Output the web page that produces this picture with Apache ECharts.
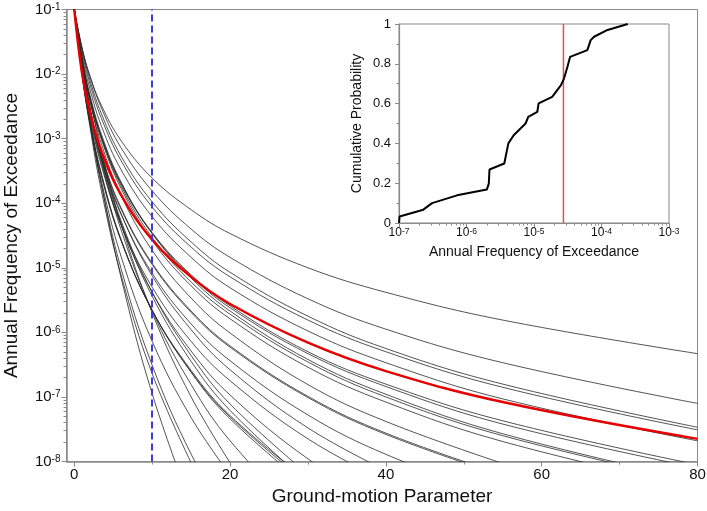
<!DOCTYPE html>
<html><head><meta charset="utf-8">
<script src="https://cdn.jsdelivr.net/npm/echarts@6/dist/echarts.min.js"></script>
<style>html,body{margin:0;padding:0;background:#fff}#c{width:707px;height:511px}</style>
</head><body><div id="c"></div>
<script>
// Ground-motion parameter sample positions shared by all hazard curves
const xs = [0, 1, 2, 3.5, 6, 10, 15, 20, 30, 40, 55, 80];

// Individual hazard curves (annual frequency of exceedance)
const c1 = [1e-1, 1.26e-2, 2.09e-3, 1.91e-4, 7.08e-6, 1.12e-7, 2.09e-9];
const c2 = [1e-1, 1.0e-2, 1.55e-3, 1.51e-4, 7.76e-6, 2.29e-7, 9.55e-9];
const c3 = [1e-1, 1.10e-2, 1.78e-3, 1.86e-4, 9.77e-6, 3.09e-7, 1.30e-8, 1.15e-9];
const c4 = [1e-1, 1.05e-2, 1.78e-3, 2.14e-4, 1.51e-5, 7.24e-7, 4.79e-8, 6.17e-9];
const c5 = [1e-1, 1.82e-2, 4.17e-3, 6.31e-4, 4.79e-5, 2.0e-6, 1.0e-7, 9.55e-9];
const c6 = [1e-1, 1.48e-2, 3.09e-3, 4.57e-4, 3.89e-5, 2.14e-6, 1.55e-7, 2.09e-8, 1.07e-9];
const c7 = [1e-1, 1.02e-2, 1.91e-3, 2.82e-4, 2.75e-5, 2.19e-6, 2.40e-7, 4.57e-8, 4.07e-9];
const c8 = [1e-1, 1.0e-2, 1.82e-3, 2.69e-4, 2.69e-5, 2.19e-6, 2.45e-7, 4.90e-8, 4.57e-9];
const c9 = [1e-1, 9.55e-3, 1.74e-3, 2.57e-4, 2.63e-5, 2.19e-6, 2.57e-7, 5.13e-8, 5.01e-9];
const c10 = [1e-1, 1.41e-2, 3.02e-3, 4.79e-4, 4.90e-5, 3.63e-6, 3.55e-7, 6.17e-8, 4.68e-9];
const c11 = [1e-1, 1.41e-2, 3.09e-3, 5.01e-4, 5.37e-5, 4.17e-6, 4.37e-7, 7.76e-8, 6.31e-9];
const c12 = [1e-1, 1.20e-2, 2.45e-3, 4.07e-4, 4.57e-5, 4.17e-6, 5.13e-7, 1.07e-7, 1.10e-8, 2.04e-9];
const c13 = [1e-1, 1.07e-2, 2.19e-3, 3.72e-4, 4.68e-5, 5.01e-6, 7.24e-7, 1.78e-7, 2.24e-8, 4.90e-9];
const c14 = [1e-1, 1.26e-2, 2.82e-3, 5.25e-4, 6.92e-5, 7.50e-6, 1.10e-6, 2.63e-7, 3.31e-8, 7.24e-9];
const c15 = [1e-1, 1.15e-2, 2.51e-3, 4.68e-4, 6.76e-5, 8.22e-6, 1.35e-6, 3.63e-7, 5.25e-8, 1.29e-8, 2.69e-9];
const c16 = [1e-1, 1.15e-2, 2.63e-3, 5.25e-4, 8.13e-5, 1.12e-5, 2.04e-6, 5.89e-7, 9.77e-8, 2.63e-8, 6.03e-9];
const c17 = [1e-1, 1.17e-2, 2.69e-3, 5.50e-4, 8.51e-5, 1.17e-5, 2.14e-6, 6.17e-7, 1.02e-7, 2.75e-8, 6.31e-9];
const c18 = [1e-1, 1.48e-2, 3.80e-3, 8.13e-4, 1.32e-4, 1.86e-5, 3.39e-6, 9.77e-7, 1.55e-7, 4.17e-8, 9.33e-9];
const c19 = [1e-1, 1.55e-2, 4.17e-3, 9.55e-4, 1.70e-4, 2.63e-5, 5.25e-6, 1.62e-6, 2.88e-7, 8.32e-8, 2.04e-8, 3.80e-9];
const c20 = [1e-1, 1.58e-2, 4.27e-3, 1.02e-3, 1.86e-4, 2.95e-5, 6.03e-6, 1.91e-6, 3.47e-7, 1.0e-7, 2.51e-8, 4.79e-9];
const c21 = [1e-1, 1.70e-2, 4.79e-3, 1.15e-3, 2.14e-4, 3.39e-5, 6.92e-6, 2.14e-6, 3.80e-7, 1.10e-7, 2.69e-8, 5.01e-9];
const c22 = [1e-1, 1.58e-2, 4.37e-3, 1.05e-3, 2.0e-4, 3.39e-5, 7.41e-6, 2.40e-6, 4.68e-7, 1.45e-7, 3.80e-8, 7.94e-9];
const c23 = [1e-1, 1.58e-2, 4.37e-3, 1.05e-3, 2.04e-4, 3.51e-5, 7.76e-6, 2.57e-6, 5.01e-7, 1.58e-7, 4.27e-8, 8.91e-9];
const c24 = [1e-1, 1.91e-2, 5.89e-3, 1.55e-3, 3.31e-4, 6.17e-5, 1.45e-5, 4.90e-6, 1.05e-6, 3.39e-7, 9.33e-8, 2.09e-8];
const c25 = [1e-1, 2.19e-2, 7.08e-3, 2.04e-3, 4.57e-4, 8.71e-5, 2.09e-5, 7.24e-6, 1.55e-6, 5.01e-7, 1.41e-7, 3.09e-8];
const c26 = [1e-1, 2.40e-2, 8.13e-3, 2.40e-3, 5.37e-4, 1.05e-4, 2.51e-5, 8.51e-6, 1.78e-6, 5.62e-7, 1.58e-7, 3.39e-8];
const c27 = [1e-1, 2.57e-2, 9.33e-3, 2.95e-3, 7.24e-4, 1.55e-4, 3.98e-5, 1.45e-5, 3.31e-6, 1.12e-6, 3.39e-7, 7.94e-8];
const c28 = [1e-1, 2.45e-2, 9.33e-3, 3.24e-3, 9.33e-4, 2.45e-4, 7.94e-5, 3.39e-5, 1.0e-5, 4.17e-6, 1.55e-6, 4.68e-7];
const hazardCurves = [c1,c2,c3,c4,c5,c6,c7,c8,c9,c10,c11,c12,c13,c14,c15,c16,c17,c18,c19,c20,c21,c22,c23,c24,c25,c26,c27,c28];

// Mean hazard curve (red)
const meanCurve = [1e-1, 1.02e-2, 2.57e-3, 6.31e-4, 1.35e-4, 2.72e-5, 7.24e-6, 2.75e-6, 6.92e-7, 2.51e-7, 8.32e-8, 2.24e-8];

// Selected ground-motion level (blue dashed line)
const markX = 10;

// Inset: cumulative distribution of annual frequency at the selected level
const cdfFreq = [1.0e-7, 1.02e-7, 2.29e-7, 3.09e-7, 7.24e-7, 2.0e-6, 2.14e-6, 2.19e-6, 3.63e-6, 4.17e-6, 5.0e-6, 7.5e-6, 8.22e-6, 1.12e-5, 1.17e-5, 1.86e-5, 2.51e-5, 2.79e-5, 3.13e-5, 3.43e-5, 6.17e-5, 6.92e-5, 7.76e-5, 1.23e-4, 2.45e-4];
const cdfProb = [0, 0.033, 0.067, 0.10, 0.139, 0.168, 0.198, 0.269, 0.299, 0.40, 0.441, 0.50, 0.533, 0.559, 0.601, 0.634, 0.693, 0.727, 0.785, 0.835, 0.869, 0.919, 0.936, 0.970, 1.0];
const meanAtMark = 2.73e-5;
const probRange = [0, 1];

// Tick positions
const mainXTicks = [0, 20, 40, 60, 80];
const mainXMinor = [10, 30, 50, 70];
const mainYTicks = [1e-8, 1e-7, 1e-6, 1e-5, 1e-4, 1e-3, 1e-2, 1e-1];
const insetXTicks = [1e-7, 1e-6, 1e-5, 1e-4, 1e-3];

function logMinor(ticks) {
  const out = [];
  for (let i = 0; i < ticks.length - 1; i++) {
    for (let m = 2; m <= 9; m++) out.push(Number((ticks[i] * m).toPrecision(3)));
  }
  return out;
}
const mainYMinor = logMinor(mainYTicks);
const insetXMinor = logMinor(insetXTicks);

const FONT = '"Liberation Sans", Arial, sans-serif';
const AX = '#8a8a8a';
const TXT = '#111';

function supFmt(v) { return '{b|10}{s|' + Math.round(Math.log10(v)) + '}'; }
const richBig = {
  b: { fontSize: 15, fontFamily: FONT, color: TXT, verticalAlign: 'bottom' },
  s: { fontSize: 10, fontFamily: FONT, color: TXT, verticalAlign: 'top' }
};
const richSmall = {
  b: { fontSize: 12, fontFamily: FONT, color: TXT, verticalAlign: 'bottom' },
  s: { fontSize: 8.5, fontFamily: FONT, color: TXT, verticalAlign: 'top' }
};

const series = hazardCurves.map(vals => ({
  type: 'line', xAxisIndex: 0, yAxisIndex: 0,
  data: vals.map((v, i) => [xs[i], v]),
  symbol: 'none', smooth: 0.4, silent: true, z: 2,
  lineStyle: { color: '#2a2a2a', width: 0.9, opacity: 0.9 }
}));
series.push({
  type: 'line', xAxisIndex: 0, yAxisIndex: 0,
  data: meanCurve.map((v, i) => [xs[i], v]),
  symbol: 'none', smooth: 0.4, silent: true, z: 3,
  lineStyle: { color: '#e60000', width: 2.5 },
  markLine: {
    symbol: 'none', silent: true, label: { show: false },
    lineStyle: { color: '#3c3cdc', type: [7, 4], width: 2 },
    data: [{ xAxis: markX }]
  }
});
series.push({
  type: 'line', xAxisIndex: 2, yAxisIndex: 2,
  data: probRange.map(p => [meanAtMark, p]),
  symbol: 'none', silent: true, z: 2,
  lineStyle: { color: '#e05050', width: 1.5 }
});
series.push({
  type: 'line', xAxisIndex: 2, yAxisIndex: 2,
  data: cdfFreq.map((f, i) => [f, cdfProb[i]]),
  symbol: 'none', silent: true, z: 3,
  lineStyle: { color: '#000', width: 2 }
});

const mainRect = { left: 66.5, top: 9.5, width: 631, height: 452 };
const insetRect = { left: 399, top: 24, width: 270, height: 199 };

const option = {
  animation: false,
  backgroundColor: '#fff',
  grid: [
    Object.assign({ show: true, borderColor: AX, borderWidth: 1, backgroundColor: 'transparent', outerBoundsMode: 'none', containLabel: false }, mainRect),
    Object.assign({ show: true, borderColor: AX, borderWidth: 1, backgroundColor: '#fff', outerBoundsMode: 'none', containLabel: false }, insetRect),
    Object.assign({ show: false, outerBoundsMode: 'none', containLabel: false }, mainRect),
    Object.assign({ show: false, outerBoundsMode: 'none', containLabel: false }, insetRect)
  ],
  xAxis: [
    { gridIndex: 0, type: 'value', min: -1, max: 80, position: 'bottom',
      axisLine: { onZero: false, lineStyle: { color: AX, width: 1.5 } },
      axisTick: { customValues: mainXTicks, length: 5, lineStyle: { color: AX } },
      axisLabel: { customValues: mainXTicks, fontSize: 15, color: TXT, margin: 6, fontFamily: FONT },
      splitLine: { show: false },
      name: 'Ground-motion Parameter', nameLocation: 'middle', nameGap: 20,
      nameTextStyle: { fontSize: 19, color: TXT, fontFamily: FONT } },
    { gridIndex: 1, type: 'log', logBase: 10, min: 1e-7, max: 1e-3, position: 'bottom',
      axisLine: { onZero: false, lineStyle: { color: AX, width: 1.2 } },
      axisTick: { customValues: insetXTicks, length: 4, lineStyle: { color: AX } },
      axisLabel: { customValues: insetXTicks, margin: 4, formatter: supFmt, rich: richSmall },
      splitLine: { show: false },
      name: 'Annual Frequency of Exceedance', nameLocation: 'middle', nameGap: 22,
      nameTextStyle: { fontSize: 14, color: TXT, fontFamily: FONT } },
    { gridIndex: 2, type: 'value', min: -1, max: 80, position: 'bottom',
      axisLine: { show: false, onZero: false },
      axisTick: { customValues: mainXMinor, length: 3, lineStyle: { color: AX } },
      axisLabel: { show: false }, splitLine: { show: false } },
    { gridIndex: 3, type: 'log', logBase: 10, min: 1e-7, max: 1e-3, position: 'bottom',
      axisLine: { show: false, onZero: false },
      axisTick: { customValues: insetXMinor, length: 2.5, lineStyle: { color: AX } },
      axisLabel: { show: false }, splitLine: { show: false } }
  ],
  yAxis: [
    { gridIndex: 0, type: 'log', logBase: 10, min: 1e-8, max: 1e-1, position: 'left',
      axisLine: { onZero: false, lineStyle: { color: AX, width: 1.5 } },
      axisTick: { customValues: mainYTicks, length: 5, lineStyle: { color: AX } },
      axisLabel: { customValues: mainYTicks, margin: 6, formatter: supFmt, rich: richBig },
      splitLine: { show: false },
      name: 'Annual Frequency of Exceedance', nameLocation: 'middle', nameGap: 45, nameRotate: 90,
      nameTextStyle: { fontSize: 19, color: TXT, fontFamily: FONT } },
    { gridIndex: 1, type: 'value', min: 0, max: 1, interval: 0.2, position: 'left',
      axisLine: { onZero: false, lineStyle: { color: AX, width: 1.2 } },
      axisTick: { length: 4, lineStyle: { color: AX } },
      minorTick: { show: true, splitNumber: 2, length: 2.5, lineStyle: { color: AX } },
      axisLabel: { fontSize: 13, color: TXT, margin: 8, fontFamily: FONT },
      splitLine: { show: false }, minorSplitLine: { show: false },
      name: 'Cumulative Probability', nameLocation: 'middle', nameGap: 35, nameRotate: 90,
      nameTextStyle: { fontSize: 14, color: TXT, fontFamily: FONT } },
    { gridIndex: 2, type: 'log', logBase: 10, min: 1e-8, max: 1e-1, position: 'left',
      axisLine: { show: false, onZero: false },
      axisTick: { customValues: mainYMinor, length: 3, lineStyle: { color: AX } },
      axisLabel: { show: false }, splitLine: { show: false } },
    { gridIndex: 3, type: 'value', min: 0, max: 1, position: 'left',
      axisLine: { show: false, onZero: false },
      axisTick: { show: false }, axisLabel: { show: false }, splitLine: { show: false } }
  ],
  series: series.map(s => s.xAxisIndex === 2 ? Object.assign(s, { xAxisIndex: 1, yAxisIndex: 1 }) : s)
};

const chart = echarts.init(document.getElementById('c'), null, { renderer: 'canvas' });
chart.setOption(option);
</script>
</body></html>
